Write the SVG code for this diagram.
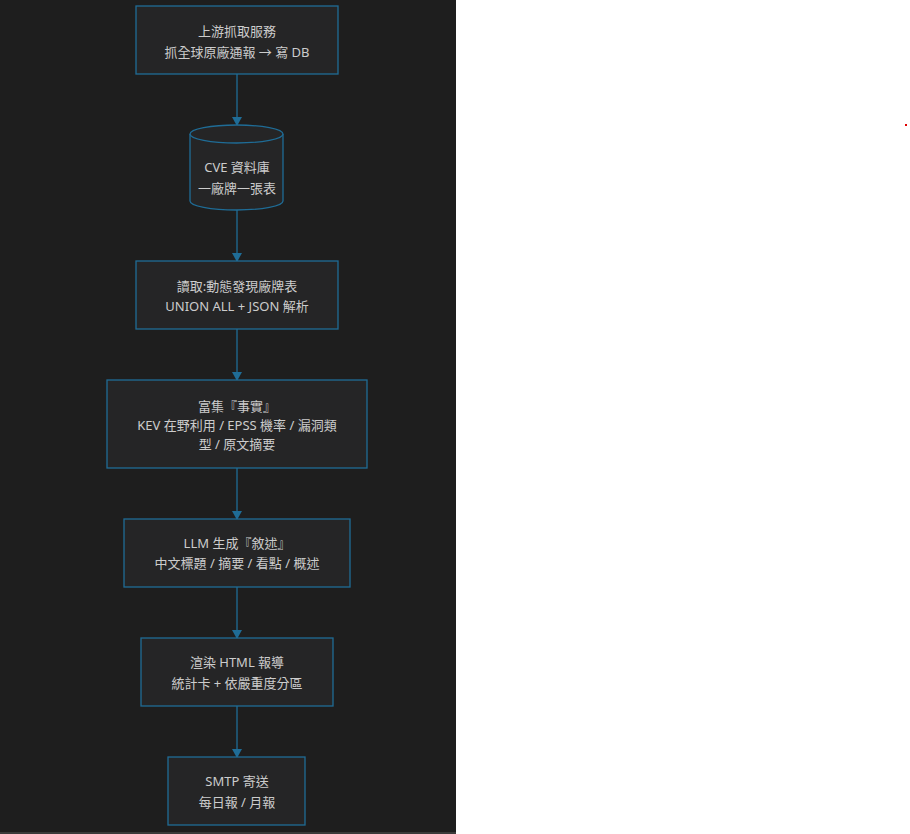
<svg xmlns="http://www.w3.org/2000/svg" width="910" height="834" viewBox="0 0 910 834">
<style>
.n{fill:#252526;stroke:#1f6c96;stroke-width:1.3}
.t{font-family:"Noto Sans","Noto Sans CJK TC",sans-serif;font-size:13px;fill:#cccccc;text-anchor:middle}
.c{stroke:#1f6c96;stroke-width:1.3;fill:none}
</style>
<defs>
<marker id="a" markerWidth="10" markerHeight="10" refX="8" refY="5" orient="auto" markerUnits="userSpaceOnUse">
<path d="M0,0 L9,5 L0,10 Z" fill="#1f6c96"/>
</marker>
</defs>
<rect x="0" y="0" width="910" height="834" fill="#ffffff"/>
<rect x="0" y="0" width="456" height="834" fill="#1e1e1e"/>
<rect x="0" y="832" width="456" height="2" fill="#3a3a3a"/>
<rect x="905" y="124" width="2" height="2" fill="#e00000"/>
<g id="connectors">
<path class="c" d="M237,74 V125" marker-end="url(#a)"/>
<path class="c" d="M237,210 V261" marker-end="url(#a)"/>
<path class="c" d="M237,329 V380" marker-end="url(#a)"/>
<path class="c" d="M237,468 V519" marker-end="url(#a)"/>
<path class="c" d="M237,587 V638" marker-end="url(#a)"/>
<path class="c" d="M237,706 V757" marker-end="url(#a)"/>
</g>
<g id="n1">
<rect class="n" x="136" y="6" width="202" height="68"/>
<text class="t" x="237" y="36">上游抓取服務</text>
<text class="t" x="237" y="57">抓全球原廠通報 → 寫 DB</text>
</g>
<g id="n2">
<path class="n" d="M190,134 A46.5,9 0 0 1 283,134 V201 A46.5,9 0 0 1 190,201 Z"/>
<path class="n" d="M190,134 A46.5,9 0 0 0 283,134" fill="none"/>
<text class="t" x="237" y="172">CVE 資料庫</text>
<text class="t" x="237" y="193">一廠牌一張表</text>
</g>
<g id="n3">
<rect class="n" x="136" y="261" width="202" height="68"/>
<text class="t" x="237" y="291">讀取:動態發現廠牌表</text>
<text class="t" x="237" y="311">UNION ALL + JSON 解析</text>
</g>
<g id="n4">
<rect class="n" x="107" y="380" width="260" height="88"/>
<text class="t" x="237" y="411">富集『事實』</text>
<text class="t" x="237" y="430">KEV 在野利用 / EPSS 機率 / 漏洞類</text>
<text class="t" x="237" y="449">型 / 原文摘要</text>
</g>
<g id="n5">
<rect class="n" x="124" y="519" width="226" height="68"/>
<text class="t" x="237" y="548">LLM 生成『敘述』</text>
<text class="t" x="237" y="568">中文標題 / 摘要 / 看點 / 概述</text>
</g>
<g id="n6">
<rect class="n" x="141" y="638" width="192" height="68"/>
<text class="t" x="237" y="667">渲染 HTML 報導</text>
<text class="t" x="237" y="688">統計卡 + 依嚴重度分區</text>
</g>
<g id="n7">
<rect class="n" x="168" y="757" width="137" height="68"/>
<text class="t" x="237" y="786">SMTP 寄送</text>
<text class="t" x="237" y="807">每日報 / 月報</text>
</g>
</svg>
